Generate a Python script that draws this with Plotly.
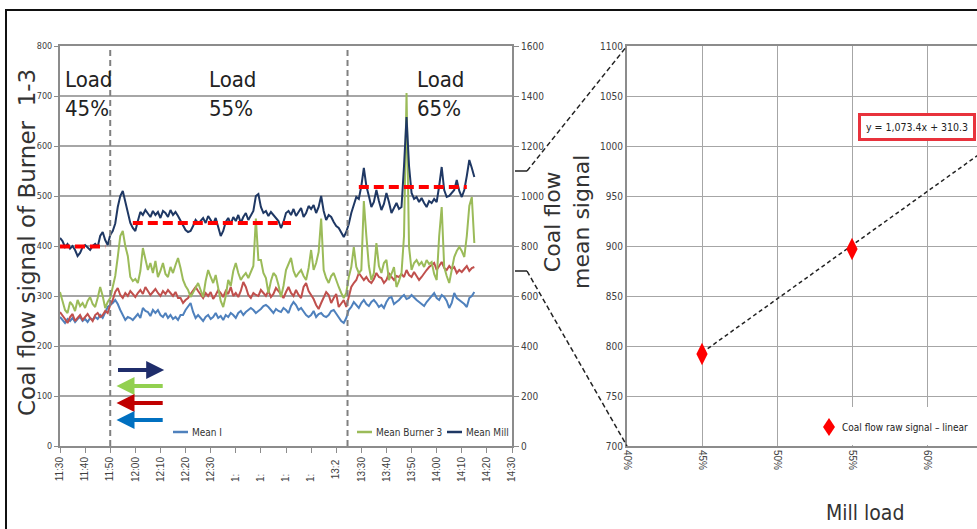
import plotly.graph_objects as go
import pandas as pd

W, H = 977, 529

# ---------------- data: left chart (1-minute samples from 11:30) ----------------
t_start = "2021-01-01 11:30"
n_samples = 166
times = pd.date_range(t_start, periods=n_samples, freq="1min")

mean_burner1 = [
    258, 252, 246, 254, 250, 256, 248, 254, 258, 250,
    254, 248, 256, 252, 258, 254, 262, 256, 266, 278,
    282, 286, 292, 284, 272, 262, 252, 258, 256, 252,
    258, 264, 256, 276, 270, 268, 260, 272, 266, 272,
    262, 258, 266, 256, 262, 254, 258, 252, 262, 262,
    272, 280, 286, 268, 256, 262, 256, 250, 258, 262,
    254, 258, 266, 256, 260, 252, 262, 258, 266, 262,
    256, 266, 270, 262, 268, 272, 276, 272, 266, 270,
    274, 280, 282, 278, 272, 266, 274, 270, 268, 276,
    272, 266, 280, 288, 282, 272, 276, 268, 262, 258,
    262, 270, 258, 264, 266, 260, 258, 262, 270, 272,
    264, 256, 250, 246, 256, 272, 278, 288, 282, 276,
    286, 292, 284, 280, 288, 292, 286, 278, 282, 276,
    288, 296, 298, 284, 288, 292, 298, 302, 294, 296,
    302, 296, 292, 288, 284, 280, 288, 294, 302, 306,
    296, 292, 302, 298, 290, 276, 286, 306, 296, 292,
    288, 284, 278, 296, 300, 308,
]
mean_burner2 = [
    268, 262, 254, 246, 258, 264, 250, 256, 262, 252,
    258, 264, 256, 250, 262, 266, 258, 262, 270, 266,
    282, 292, 308, 316, 302, 296, 306, 300, 310, 304,
    298, 306, 312, 304, 318, 310, 302, 308, 314, 306,
    300, 310, 304, 312, 306, 300, 308, 296, 296, 286,
    292, 296, 304, 312, 318, 310, 302, 296, 306, 300,
    308, 294, 302, 312, 306, 298, 310, 304, 318, 300,
    306, 298, 310, 328, 318, 302, 296, 306, 302, 300,
    312, 306, 300, 310, 298, 304, 316, 310, 302, 296,
    308, 318, 306, 300, 312, 302, 296, 318, 326, 310,
    302, 294, 282, 274, 286, 296, 308, 302, 286, 296,
    304, 278, 286, 292, 278, 300, 318, 326, 332, 346,
    338, 332, 338, 330, 326, 334, 346, 338, 336, 326,
    332, 346, 338, 332, 340, 338, 344, 338, 352, 342,
    338, 348, 340, 332, 338, 346, 352, 358, 362, 366,
    352, 360, 368, 356, 352, 360, 354, 358, 346, 352,
    348, 354, 360, 350, 356, 358,
]
mean_burner3 = [
    308, 290, 272, 266, 288, 282, 270, 292, 280, 286,
    276, 290, 298, 284, 278, 296, 318, 300, 276, 288,
    296, 318, 340, 378, 420, 430, 400, 380, 338, 330,
    334, 326, 350, 396, 372, 352, 366, 346, 370, 338,
    350, 366, 344, 338, 358, 346, 362, 376, 356, 332,
    320, 312, 298, 306, 316, 326, 312, 298, 330, 352,
    338, 326, 342, 318, 290, 278, 300, 332, 320, 350,
    366, 346, 332, 340, 346, 336, 350, 360, 455, 372,
    372, 346, 336, 306, 330, 346, 340, 322, 298, 320,
    352, 366, 376, 350, 338, 346, 352, 340, 332, 356,
    392, 352, 366, 388, 455, 352, 336, 326, 340, 346,
    330, 318, 306, 296, 306, 338, 358, 398, 358, 346,
    352, 490, 420, 360, 332, 346, 406, 360, 346, 366,
    372, 332, 344, 358, 318, 330, 346, 420, 706, 398,
    352, 366, 372, 362, 368, 358, 372, 364, 368, 344,
    332, 420, 478, 358, 340, 326, 352, 378, 390, 398,
    390, 378, 420, 480, 498, 406,
]
# Mean Mill is read on the right-hand axis (0-1600)
mean_mill = [
    832, 820, 796, 808, 790, 800, 784, 760, 772, 796,
    804, 792, 784, 800, 808, 796, 840, 856, 824, 804,
    844, 860, 890, 956, 1000, 1020, 976, 944, 892, 872,
    860, 900, 936, 924, 944, 930, 916, 940, 924, 936,
    912, 940, 932, 916, 944, 924, 936, 920, 900, 880,
    864, 856, 860, 880, 904, 892, 900, 912, 892, 920,
    904, 888, 912, 872, 840, 860, 896, 912, 888, 916,
    900, 924, 892, 916, 932, 904, 920, 940, 1000, 1008,
    956, 932, 940, 920, 936, 924, 916, 900, 872, 896,
    932, 940, 924, 948, 920, 936, 952, 916, 932, 960,
    948, 964, 932, 956, 1000, 940, 904, 924, 916, 896,
    880, 872, 852, 836, 856, 888, 932, 968, 996, 988,
    1040, 1112, 1040, 1000, 956, 976, 1024, 980, 944, 968,
    1012, 976, 932, 952, 972, 948, 956, 1120, 1316, 1120,
    1012, 988, 996, 976, 992, 972, 956, 980, 972, 988,
    976, 1040, 1116, 1024, 996, 1000, 1012, 1024, 1064, 1020,
    996, 1024, 1080, 1144, 1112, 1076,
]

# load-period mean levels of Mean Mill (right axis units)
level_start = ["2021-01-01 11:30", "2021-01-01 11:59", "2021-01-01 13:29"]
level_end = ["2021-01-01 11:48", "2021-01-01 13:02", "2021-01-01 14:12"]
level_value = [798, 892, 1036]

load_labels = ["Load<br>45%", "Load<br>55%", "Load<br>65%"]
load_boundaries = ["2021-01-01 11:50", "2021-01-01 13:24:30"]

tick_times = list(pd.date_range("2021-01-01 11:30", "2021-01-01 14:30", freq="10min"))
NB = "\u00a0"
tick_labels = ["11:30", "11:40", "11:50", "12:00", "12:10", "12:20", "12:30",
               "1:" + NB * 6, "1:" + NB * 6, "1:" + NB * 6, "1:" + NB * 6,
               "13:2" + NB, "13:30", "13:40", "13:50", "14:00", "14:10", "14:20", "14:30"]

# ---------------- data: right chart ----------------
mill_load = [0.45, 0.55]
coal_flow_mean = [792, 897]
fit_slope, fit_intercept = 1073.4, 310.3
fit_x = [0.45, 0.66]
load_ticks = [0.40, 0.45, 0.50, 0.55, 0.60]
load_ticktext = ["40%", "45%", "50%", "55%", "60%"]
series_name = "Coal flow raw signal \u2013 linear"

# ---------------- styling ----------------
NARROW = "Liberation Sans Narrow, DejaVu Sans Condensed, Arial Narrow, Liberation Sans, sans-serif"
SANS = "Liberation Sans, Arial, sans-serif"
TITLE = "DejaVu Sans, Verdana, sans-serif"
C_B1, C_B2, C_B3, C_MILL = "#4f81bd", "#c0504d", "#9bbb59", "#1f3864"
GRID = "#a6a6a6"
AXIS = "#8c8c8c"

yd = [1 - 446 / H, 1 - 46 / H]
xd_left = [60 / W, 512 / W]
xd_right = [627 / W, 1.0]
x2_max = 0.40 + (W - 627) / 75 * 0.05

fig = go.Figure()

for name, vals, col in [("Mean Burner 1", mean_burner1, C_B1),
                        ("Mean Burner 2", mean_burner2, C_B2),
                        ("Mean Burner 3", mean_burner3, C_B3)]:
    fig.add_trace(go.Scatter(x=times, y=vals, mode="lines", name=name,
                             line=dict(color=col, width=2), showlegend=False,
                             xaxis="x", yaxis="y"))
fig.add_trace(go.Scatter(x=times, y=mean_mill, mode="lines", name="Mean Mill",
                         line=dict(color=C_MILL, width=2), showlegend=False,
                         xaxis="x", yaxis="y2"))
for s, e, v in zip(level_start, level_end, level_value):
    fig.add_trace(go.Scatter(x=[s, e], y=[v, v], mode="lines", showlegend=False,
                             line=dict(color="#ff0000", width=4, dash="10px,5px"),
                             xaxis="x", yaxis="y2"))

# right chart
fig.add_trace(go.Scatter(x=fit_x, y=[fit_slope * v + fit_intercept for v in fit_x],
                         mode="lines", showlegend=False,
                         line=dict(color="#222222", width=1.5, dash="4px,3px"),
                         xaxis="x2", yaxis="y3"))
fig.add_trace(go.Scatter(x=mill_load, y=coal_flow_mean, mode="markers",
                         name=series_name, showlegend=False,
                         marker=dict(symbol="diamond-tall", size=16, color="#ff0000"),
                         xaxis="x2", yaxis="y3"))

fig.update_layout(
    width=W, height=H, autosize=False,
    margin=dict(l=0, r=0, t=0, b=0, pad=0, autoexpand=False),
    paper_bgcolor="white", plot_bgcolor="white",
    showlegend=False,
    xaxis=dict(domain=xd_left, type="date", anchor="y", automargin=False,
               range=["2021-01-01 11:30", "2021-01-01 14:30"],
               tickmode="array", tickvals=tick_times, ticktext=tick_labels,
               tickangle=-90, ticks="outside", ticklen=5, tickcolor=AXIS,
               tickfont=dict(family=SANS, size=10, color="#404040"),
               showgrid=False, showline=True, linecolor=AXIS, linewidth=2,
               mirror=True, zeroline=False),
    yaxis=dict(domain=yd, range=[0, 800], dtick=100, anchor="x", automargin=False,
               showgrid=True, gridcolor=GRID, gridwidth=1.5,
               showline=True, linecolor=AXIS, linewidth=2,
               ticks="outside", ticklen=4, tickcolor=AXIS,
               tickfont=dict(family=NARROW, size=9, color="#404040"),
               zeroline=False),
    yaxis2=dict(range=[0, 1600], dtick=200, overlaying="y", side="right",
                anchor="x", automargin=False, showgrid=False, showline=True,
                linecolor=AXIS, linewidth=2, ticks="outside", ticklen=5,
                tickcolor=AXIS, tickfont=dict(family=NARROW, size=10, color="#404040"),
                zeroline=False),
    xaxis2=dict(domain=xd_right, range=[0.40, x2_max], anchor="y3", automargin=False,
                tickmode="array", tickvals=load_ticks, ticktext=load_ticktext,
                tickangle=90, ticks="", showgrid=True, gridcolor=GRID, gridwidth=1,
                showline=True, linecolor=AXIS, linewidth=2, mirror=True,
                tickfont=dict(family=SANS, size=10, color="#404040"),
                zeroline=False),
    yaxis3=dict(domain=yd, range=[700, 1100], dtick=50, anchor="x2", automargin=False,
                showgrid=True, gridcolor=GRID, gridwidth=1,
                showline=True, linecolor=AXIS, linewidth=2, ticks="",
                tickfont=dict(family=NARROW, size=10, color="#404040"),
                zeroline=False),
)

shapes = []
# load boundaries
for b in load_boundaries:
    shapes.append(dict(type="line", xref="x", yref="y", x0=b, x1=b, y0=0, y1=800,
                       line=dict(color="#808080", width=2, dash="6px,4px")))
# white box behind right-chart legend
shapes.append(dict(type="rect", xref="paper", yref="paper", layer="above",
                   x0=817 / W, x1=1.0, y0=1 - 445 / H, y1=1 - 407 / H,
                   fillcolor="white", line=dict(width=0)))
# legend key (diamond) of right chart
shapes.append(dict(type="path", xref="paper", yref="paper", layer="above",
                   xsizemode="pixel", ysizemode="pixel",
                   xanchor=829 / W, yanchor=1 - 427 / H,
                   path="M 0,9 L 6,0 L 0,-9 L -6,0 Z",
                   fillcolor="#ff0000", line=dict(width=0)))
# legend keys of left chart
for xs, col in [(173, C_B1), (357, C_B3), (447, C_MILL)]:
    shapes.append(dict(type="line", xref="paper", yref="paper",
                       x0=xs / W, x1=(xs + 15) / W, y0=1 - 432 / H, y1=1 - 432 / H,
                       line=dict(color=col, width=2.5)))


# zoom connector lines: right axis 1100/700 -> right chart corners
def y2_paper(v):
    return yd[0] + v / 1600 * (yd[1] - yd[0])


def y3_paper(v):
    return yd[0] + (v - 700) / 400 * (yd[1] - yd[0])


for v in [1100, 700]:
    shapes.append(dict(type="line", xref="paper", yref="paper",
                       x0=(512 + 3) / W, x1=527 / W, y0=y2_paper(v), y1=y2_paper(v),
                       line=dict(color="#222222", width=1.5)))
    shapes.append(dict(type="line", xref="paper", yref="paper",
                       x0=527 / W, x1=xd_right[0], y0=y2_paper(v), y1=y3_paper(v),
                       line=dict(color="#222222", width=1.5, dash="5px,3px")))
# outer frame
shapes.append(dict(type="rect", xref="paper", yref="paper",
                   x0=6 / W, x1=1.02, y0=-0.03, y1=1 - 10 / H,
                   line=dict(color="#111111", width=2)))
fig.update_layout(shapes=shapes)

ann = []
for txt, xpx in zip(load_labels, [63, 207, 415]):
    ann.append(dict(text=txt, xref="paper", yref="paper", x=xpx / W, y=1 - 94 / H,
                    xanchor="left", yanchor="middle", align="left", showarrow=False,
                    font=dict(family=NARROW, size=22, color="#222222")))
# arrows (direction of change)
arrow_specs = [("2021-01-01 11:52:30", "2021-01-01 12:11:30", 152, "#1f2d6b"),
               ("2021-01-01 12:11:30", "2021-01-01 11:52:30", 120, "#92d050"),
               ("2021-01-01 12:11:30", "2021-01-01 11:52:30", 86, "#c00000"),
               ("2021-01-01 12:11:30", "2021-01-01 11:52:30", 52, "#0070c0")]
for tail, head, yv, col in arrow_specs:
    ann.append(dict(text="", x=head, y=yv, ax=tail, ay=yv, xref="x", yref="y",
                    axref="x", ayref="y", showarrow=True, arrowhead=2,
                    arrowsize=0.9, arrowwidth=4, arrowcolor=col))
for txt, xpx in [("Mean I", 190), ("Mean Burner 3", 374), ("Mean Mill", 464)]:
    ann.append(dict(text=txt, xref="paper", yref="paper", x=xpx / W, y=1 - 432 / H,
                    xanchor="left", yanchor="middle", showarrow=False,
                    font=dict(family=NARROW, size=10, color="#333333")))
ann.append(dict(text=series_name, xref="paper", yref="paper",
                x=840 / W, y=1 - 427 / H, xanchor="left", yanchor="middle",
                showarrow=False, font=dict(family=NARROW, size=10, color="#222222")))
ann.append(dict(text="Coal flow signal of Burner  1-3", xref="paper", yref="paper",
                x=27 / W, y=1 - 243 / H, textangle=-90, showarrow=False,
                xanchor="center", yanchor="middle",
                font=dict(family=TITLE, size=23, color="#333333")))
ann.append(dict(text="Coal flow<br>mean signal", xref="paper", yref="paper",
                x=567 / W, y=1 - 222 / H, textangle=-90, showarrow=False,
                xanchor="center", yanchor="middle",
                font=dict(family=TITLE, size=22, color="#333333")))
ann.append(dict(text="Mill load", xref="paper", yref="paper",
                x=865 / W, y=1 - 513 / H, showarrow=False,
                xanchor="center", yanchor="middle",
                font=dict(family=NARROW, size=21, color="#333333")))
ann.append(dict(text="y = 1,073.4x + 310.3", xref="paper", yref="paper",
                x=917 / W, y=1 - 127 / H, showarrow=False,
                xanchor="center", yanchor="middle", bgcolor="white",
                bordercolor="#e8323c", borderwidth=3, borderpad=5,
                font=dict(family=NARROW, size=10.5, color="#222222")))
fig.update_layout(annotations=ann)

fig.write_html("out.html", config={"displayModeBar": False},
               post_script="document.body.style.margin='0px';")
